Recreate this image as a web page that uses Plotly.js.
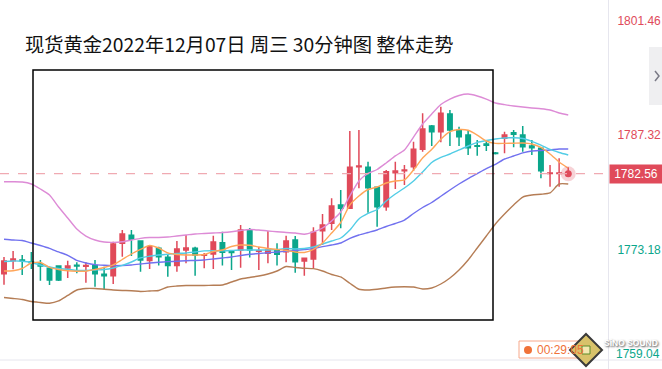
<!DOCTYPE html>
<html>
<head>
<meta charset="utf-8">
<script src="https://cdn.plot.ly/plotly-3.0.1.min.js"></script>
<style>html,body{margin:0;padding:0;background:#fff;}#chart{width:662px;height:369px;}</style>
</head>
<body>
<div id="chart"></div>
<script>
// 30-minute candles, index 0..62
var openP  = [1770.17,1771.78,1771.87,1771.62,1771.37,1770.84,1771.13,1770.88,1771.21,1771.09,
              1771.17,1770.10,1769.92,1773.93,1774.92,1774.22,1771.79,1773.31,1772.21,1771.17,
              1773.11,1773.31,1772.45,1772.61,1774.01,1772.95,1773.11,1775.58,1772.95,1772.70,
              1773.11,1772.90,1774.34,1771.75,1771.99,1775.49,1776.41,1778.68,1778.27,1783.43,
              1783.36,1780.88,1778.47,1782.69,1782.93,1783.43,1785.58,1788.47,1787.76,1789.95,
              1787.97,1787.35,1786.02,1786.23,1785.13,1786.94,1787.64,1787.35,1785.99,1785.70,
              1782.59,1782.59,1782.48];
var highP  = [1772.24,1772.99,1772.49,1772.86,1771.87,1771.04,1771.19,1771.78,1771.59,1771.59,
              1771.87,1771.04,1774.13,1775.58,1775.58,1774.28,1773.72,1773.51,1772.61,1774.22,
              1774.96,1773.51,1772.74,1774.87,1775.37,1773.11,1776.20,1775.83,1773.47,1775.46,
              1773.93,1774.87,1774.84,1772.12,1775.92,1777.56,1779.51,1780.54,1787.85,1787.97,
              1784.05,1780.95,1783.02,1784.05,1783.64,1786.52,1790.04,1788.59,1790.86,1790.45,
              1788.38,1787.97,1786.73,1786.73,1785.25,1787.76,1787.97,1788.47,1786.73,1785.83,
              1783.64,1784.47,1783.36];
var lowP   = [1768.81,1770.72,1770.01,1770.76,1769.30,1768.77,1769.26,1769.64,1770.22,1769.06,
              1768.56,1768.27,1768.89,1772.28,1772.37,1770.42,1770.76,1771.17,1769.80,1770.42,
              1771.46,1769.92,1770.84,1770.76,1771.17,1770.63,1770.92,1772.16,1770.63,1771.46,
              1771.17,1771.59,1770.30,1769.92,1770.88,1773.72,1775.58,1775.79,1778.18,1780.75,
              1777.73,1775.99,1777.97,1780.66,1781.16,1782.89,1785.29,1785.99,1786.45,1785.99,
              1785.99,1784.88,1784.79,1785.38,1784.94,1785.09,1785.83,1785.29,1784.88,1781.99,
              1780.95,1780.95,1782.40];
var closeP = [1771.75,1771.99,1771.78,1771.56,1771.13,1769.39,1769.39,1771.13,1771.13,1771.17,
              1770.17,1769.92,1773.84,1775.08,1774.43,1771.87,1773.51,1772.28,1771.17,1773.22,
              1773.35,1772.49,1772.52,1774.09,1772.83,1772.78,1775.58,1773.11,1773.02,1773.11,
              1772.58,1774.22,1771.66,1772.08,1775.30,1776.20,1778.56,1778.27,1783.36,1783.52,
              1780.83,1778.47,1782.81,1782.89,1783.02,1785.58,1788.09,1787.76,1790.04,1787.97,
              1787.14,1785.78,1785.95,1786.07,1785.06,1787.35,1787.44,1785.90,1785.78,1782.93,
              1782.65,1782.65,1782.56];

var bollUpper = [1781.57,1781.56,1781.53,1781.28,1780.66,1779.92,1778.43,1777.07,1775.70,1774.83,
                 1774.34,1774.09,1774.05,1774.13,1774.34,1774.55,1774.65,1774.65,1774.71,1774.84,
                 1774.96,1775.09,1775.15,1775.21,1775.27,1775.37,1775.52,1775.64,1775.58,1775.46,
                 1775.37,1775.27,1775.21,1775.05,1775.34,1775.83,1776.70,1777.81,1779.80,1781.66,
                 1782.59,1783.08,1783.89,1784.76,1785.50,1787.10,1788.71,1789.95,1791.13,1791.81,
                 1792.25,1792.43,1792.19,1791.81,1791.32,1791.11,1790.95,1790.82,1790.70,1790.61,
                 1790.45,1790.08,1789.83];
var bollMid   = [1774.43,1774.34,1774.28,1773.97,1773.66,1773.31,1772.86,1772.45,1771.81,1771.50,
                 1771.29,1771.21,1771.17,1771.19,1771.25,1771.37,1771.50,1771.59,1771.66,1771.71,
                 1771.78,1771.81,1771.87,1771.99,1772.12,1772.24,1772.43,1772.58,1772.67,1772.77,
                 1772.86,1772.95,1773.05,1773.17,1773.27,1773.52,1773.72,1773.97,1774.55,1774.96,
                 1775.27,1775.58,1776.02,1776.39,1776.82,1777.63,1778.37,1778.99,1779.76,1780.54,
                 1781.28,1781.96,1782.58,1783.20,1783.72,1784.38,1784.75,1785.13,1785.37,1785.44,
                 1785.50,1785.62,1785.62];
var bollLower = [1767.22,1767.10,1766.97,1766.72,1766.60,1766.50,1766.79,1767.47,1768.15,1768.34,
                 1768.34,1768.25,1768.15,1768.09,1768.06,1767.96,1768.03,1768.09,1768.52,1768.64,
                 1768.71,1768.71,1768.71,1768.73,1768.77,1769.14,1769.51,1769.70,1769.88,1770.13,
                 1770.50,1771.06,1770.94,1770.84,1770.79,1770.50,1770.07,1769.76,1768.98,1768.24,
                 1768.15,1768.24,1768.40,1768.52,1768.56,1768.52,1768.27,1768.40,1768.89,1769.64,
                 1770.63,1771.87,1773.35,1774.84,1776.33,1777.56,1778.68,1779.67,1779.92,1780.01,
                 1780.17,1781.28,1781.28];
var ma5  = [1770.50,1770.54,1770.81,1771.49,1771.56,1770.96,1770.69,1770.53,1770.48,1770.48,
            1770.69,1770.94,1771.25,1771.93,1772.61,1773.17,1773.66,1773.35,1772.74,1772.55,
            1772.49,1772.49,1772.55,1772.92,1773.11,1773.54,1773.72,1773.69,1773.47,1773.29,
            1773.17,1773.05,1772.86,1772.80,1773.17,1773.97,1775.21,1776.51,1778.68,1779.80,
            1780.60,1780.91,1781.41,1781.66,1781.78,1783.02,1784.50,1785.56,1786.82,1787.76,
            1788.03,1787.94,1787.35,1786.61,1786.32,1786.32,1786.34,1786.36,1786.24,1785.81,
            1785.00,1784.01,1783.23];
var ma10 = [1771.68,1771.75,1771.71,1771.56,1771.25,1771.00,1770.81,1770.72,1770.57,1770.57,
            1770.63,1770.69,1770.88,1771.19,1771.62,1772.12,1772.33,1772.49,1772.58,1772.67,
            1772.74,1772.86,1772.99,1773.01,1772.99,1773.05,1773.11,1773.11,1773.11,1773.11,
            1773.17,1773.29,1773.23,1773.29,1773.48,1773.85,1774.22,1774.59,1775.58,1776.95,
            1777.63,1778.12,1779.17,1780.04,1780.78,1781.65,1782.77,1783.95,1784.57,1785.00,
            1785.50,1785.99,1786.43,1786.67,1786.86,1786.98,1787.01,1786.92,1786.57,1786.11,
            1785.56,1785.19,1784.88];

var tickVals = [1759.04, 1773.18, 1787.32, 1801.46];
var tickColors = ['#0aa68b', '#0aa68b', '#e04a5a', '#e04a5a'];
var lastPrice = 1782.56;
var titleText = '现货黄金2022年12月07日 周三 30分钟图 整体走势';
var timerText = '00:29:05';

var idx = openP.map(function(_, i){ return i; });
var RED = '#e04a5a', GREEN = '#0aa68b';
var TICKFONT = 'Liberation Sans, Arial, sans-serif';

function line(y, color){
  return {x: idx, y: y, type: 'scatter', mode: 'lines', hoverinfo: 'skip',
          line: {color: color, width: 1.4, shape: 'spline', smoothing: 0.6}};
}

var traces = [
  line(bollUpper, '#dd8bd6'),
  line(bollLower, '#b57d55'),
  line(bollMid, '#7171ef'),
  line(ma10, '#52cde6'),
  line(ma5, '#ffa65a'),
  {type: 'candlestick', x: idx, open: openP, high: highP, low: lowP, close: closeP,
   increasing: {line: {color: RED, width: 1.5}, fillcolor: RED},
   decreasing: {line: {color: GREEN, width: 1.5}, fillcolor: GREEN},
   whiskerwidth: 0, hoverinfo: 'skip'},
  {type: 'scatter', mode: 'markers', x: [idx[idx.length-1]], y: [lastPrice], hoverinfo: 'skip',
   marker: {size: 15, color: 'rgba(224,74,90,0.25)'}},
  {type: 'scatter', mode: 'markers', x: [idx[idx.length-1]], y: [lastPrice], hoverinfo: 'skip',
   marker: {size: 7, color: RED}}
];

var W = 608, H = 369;
function px(x){ return x / W; }
function py(y){ return 1 - y / H; }

// the axis labels that fit are drawn by the axis; the lowest one is clamped above the edge like the original app does
var yRange = [1758.36, 1804.08];
var inVals = [], inText = [], clampAnn = [];
tickVals.forEach(function(v, i){
  var t = '<span style="color:' + tickColors[i] + '">' + v.toFixed(2) + '</span>';
  if (v > yRange[0] + 1.2) { inVals.push(v); inText.push(t); }
  else clampAnn.push({xref: 'paper', yref: 'y', x: 1, y: v, xanchor: 'left', yanchor: 'middle',
                      xshift: 6, yshift: 9.5, text: t, showarrow: false,
                      font: {family: TICKFONT, size: 12}});
});

var layout = {
  width: 662, height: 369,
  margin: {l: 0, r: 54, t: 0, b: 0, pad: 0},
  paper_bgcolor: '#ffffff', plot_bgcolor: '#ffffff',
  showlegend: false,
  dragmode: false,
  xaxis: {range: [-0.44, 66.37], showgrid: false, zeroline: false, showticklabels: false,
          showline: false, ticks: '', rangeslider: {visible: false}, fixedrange: true},
  yaxis: {range: yRange, side: 'right', showgrid: false, zeroline: false,
          showline: true, linecolor: '#e6e6ee', linewidth: 1, ticks: '',
          tickvals: inVals, ticktext: inText,
          tickfont: {family: TICKFONT, size: 12},
          ticklabelstandoff: 6, fixedrange: true},
  shapes: [
    {type: 'line', xref: 'paper', yref: 'y', x0: 0, x1: 1, y0: lastPrice, y1: lastPrice,
     line: {color: '#f0aab2', width: 1.2, dash: 'dash'}},
    {type: 'rect', xref: 'paper', yref: 'paper', x0: px(33), x1: px(493), y0: py(320), y1: py(70),
     line: {color: '#000000', width: 1.5}, fillcolor: 'rgba(0,0,0,0)'},
    {type: 'line', xref: 'paper', yref: 'paper', x0: 0, x1: px(662), y0: py(360), y1: py(360),
     line: {color: '#e6e6ee', width: 1}},
    {type: 'rect', xref: 'paper', yref: 'paper', x0: px(649), x1: px(662), y0: py(105), y1: py(47),
     line: {width: 0}, fillcolor: '#efeff1'},
    {type: 'path', xref: 'paper', yref: 'paper',
     path: 'M ' + px(655) + ' ' + py(71) + ' L ' + px(659) + ' ' + py(76) + ' L ' + px(655) + ' ' + py(81),
     line: {color: '#7a7a86', width: 1.5}},
    {type: 'rect', xref: 'paper', yref: 'paper', x0: px(519), x1: px(584), y0: py(358), y1: py(341),
     line: {color: '#f7a88a', width: 1}, fillcolor: '#ffffff'},
    {type: 'circle', xref: 'paper', yref: 'paper', x0: px(524), x1: px(532), y0: py(354), y1: py(346),
     line: {width: 0}, fillcolor: '#f07238'}
  ],
  annotations: [
    {xref: 'paper', yref: 'paper', x: px(23), y: py(44), xanchor: 'left', yanchor: 'middle',
     text: titleText, showarrow: false,
     font: {family: 'Noto Sans CJK SC', size: 19.3, color: '#111111'}},
    {xref: 'paper', yref: 'y', x: 1, y: lastPrice, xanchor: 'left', yanchor: 'middle',
     xshift: 1, text: lastPrice.toFixed(2), showarrow: false, bgcolor: RED,
     width: 50, height: 16, borderpad: 1,
     font: {family: TICKFONT, size: 12, color: '#ffffff'}},
    {xref: 'paper', yref: 'paper', x: px(535), y: py(349.5), xanchor: 'left', yanchor: 'middle',
     text: timerText, showarrow: false,
     font: {family: TICKFONT, size: 12, color: '#f07238'}}
  ].concat(clampAnn)
};

// watermark logo
layout.shapes.push(
    {type: 'path', xref: 'paper', yref: 'paper',
     path: 'M ' + px(586) + ' ' + py(334) + ' L ' + px(602) + ' ' + py(350) + ' L ' + px(586) + ' ' + py(366) + ' L ' + px(570) + ' ' + py(350) + ' Z',
     line: {color: '#3a3a3a', width: 2}, fillcolor: '#d8c26a'},
    {type: 'rect', xref: 'paper', yref: 'paper', x0: px(582), x1: px(590), y0: py(354), y1: py(346),
     line: {color: '#5a8a2a', width: 1}, fillcolor: '#f3e9b0'});
layout.annotations.push(
    {xref: 'paper', yref: 'paper', x: px(602), y: py(343), xanchor: 'left', yanchor: 'middle',
     text: '<b>SiNO SOUND</b>', showarrow: false,
     font: {family: TICKFONT, size: 8.5, color: '#ffffff', shadow: '1px 1px 2px #444'}});

Plotly.newPlot('chart', traces, layout, {staticPlot: true, displayModeBar: false});
</script>
</body>
</html>
